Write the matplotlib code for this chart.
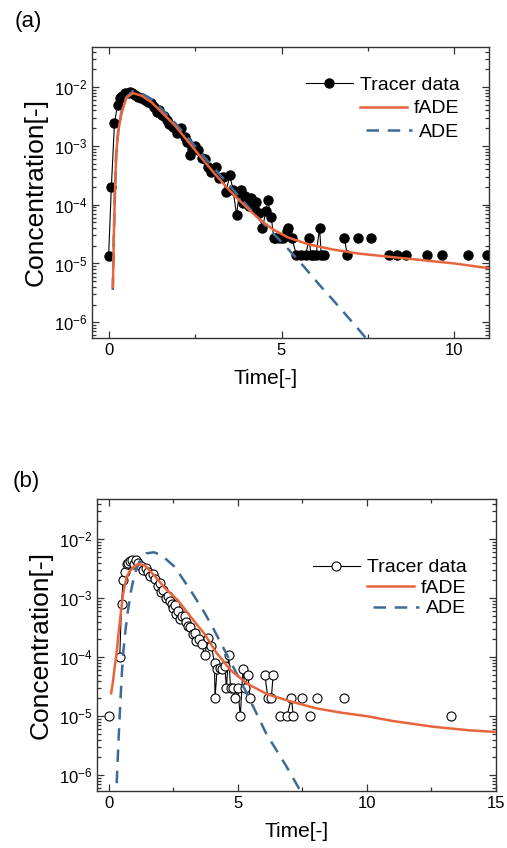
import matplotlib
matplotlib.use("Agg")
import matplotlib.pyplot as plt
import numpy as np
from matplotlib.ticker import MultipleLocator, LogLocator, NullFormatter

plt.rcParams["font.family"] = ["Liberation Sans", "DejaVu Sans"]
plt.rcParams["mathtext.fontset"] = "custom"
plt.rcParams["mathtext.rm"] = "Liberation Sans"
plt.rcParams["mathtext.it"] = "Liberation Sans:italic"
plt.rcParams["mathtext.bf"] = "Liberation Sans:bold"

ORANGE = "#E8643C"
BLUE = "#3F6A96"
AXIS = "#333333"

# ---- panel (a): tracer data (nan = gap in the connecting line) ----
time_a = [0.0, 0.08, 0.17, 0.26, 0.33, 0.40, 0.47, 0.55, 0.62, 0.69, 0.76, 0.84, 0.94,
          1.04, 1.14, 1.24, 1.32, 1.39, 1.46, 1.53, 1.60, 1.68, 1.76, 1.85, 1.97, 2.10,
          2.20, 2.28, 2.34, 2.40, 2.50, 2.58, 2.69, 2.78, 2.87, 2.95, 3.03, 3.12, 3.20,
          3.30, 3.40, 3.50, 3.60, 3.70, 3.78, 3.84, 3.88, 3.95, 4.05, 4.13, 4.20, 4.27,
          4.35, 4.45, 4.55, 4.60, 4.70, 4.78, 4.85, 4.95, 5.05, 5.15, 5.20, 5.30, 5.43,
          5.55, 5.70, 5.80, 5.85, 5.90, 6.00, 6.10, 6.15, 6.22, np.nan,
          6.82, 6.90, np.nan, 7.20, np.nan, 7.60, np.nan, 8.10, 8.35, 8.60, np.nan,
          9.20, np.nan, 9.65, np.nan, 10.40, np.nan, 10.95]
conc_a = [1.35e-5, 2.0e-4, 2.45e-3, 5.0e-3, 6.6e-3, 7.1e-3, 7.9e-3, 7.9e-3, 8.1e-3, 7.9e-3,
          7.2e-3, 6.8e-3, 6.6e-3, 6.0e-3, 5.6e-3, 5.4e-3, 4.5e-3, 3.8e-3, 4.0e-3, 3.3e-3,
          3.2e-3, 2.75e-3, 2.4e-3, 2.1e-3, 1.65e-3, 2.0e-3, 1.4e-3, 1.15e-3, 7.1e-4, 8.9e-4,
          1.0e-3, 8.5e-4, 6.3e-4, 6.0e-4, 4.4e-4, 3.55e-4, 4.0e-4, 4.4e-4, 2.8e-4, 3.0e-4,
          1.65e-4, 3.2e-4, 1.8e-4, 6.6e-5, 1.6e-4, 1.8e-4, 1.05e-4, 1.4e-4, 9.5e-5, 1.3e-4,
          8.9e-5, 1.1e-4, 7.1e-5, 4.0e-5, 7.9e-5, 1.2e-4, 6.2e-5, 2.7e-5, 2.7e-5, 2.7e-5,
          2.7e-5, 3.55e-5, 4.0e-5, 2.7e-5, 1.4e-5, 1.4e-5, 1.4e-5, 2.7e-5, 1.4e-5, 1.4e-5,
          1.4e-5, 4.0e-5, 1.4e-5, 1.4e-5, np.nan,
          2.7e-5, 1.4e-5, np.nan, 2.7e-5, np.nan, 2.7e-5, np.nan, 1.4e-5, 1.4e-5, 1.4e-5, np.nan,
          1.4e-5, np.nan, 1.4e-5, np.nan, 1.4e-5, np.nan, 1.4e-5]

fade_t_a = [0.125, 0.15, 0.18, 0.22, 0.28, 0.37, 0.51, 0.70, 0.94, 1.23, 1.52, 1.91, 2.29,
            2.68, 3.06, 3.50, 3.98, 4.40, 4.75, 5.20, 5.80, 6.50, 7.20, 8.0, 9.0, 10.0, 11.0]
fade_c_a = [4.0e-6, 2.8e-5, 1.4e-4, 7.4e-4, 1.78e-3, 3.55e-3, 6.5e-3, 7.9e-3, 7.2e-3, 5.6e-3,
            3.8e-3, 2.25e-3, 1.2e-3, 6.3e-4, 3.4e-4, 1.74e-4, 9.1e-5, 5.4e-5, 3.8e-5, 2.75e-5,
            2.1e-5, 1.72e-5, 1.48e-5, 1.32e-5, 1.15e-5, 1.0e-5, 8.3e-6]

ade_t_a = [0.12, 0.15, 0.18, 0.22, 0.28, 0.37, 0.51, 0.70, 0.94, 1.23, 1.52, 1.91, 2.29, 2.68,
           3.06, 3.50, 3.98, 4.50, 5.04, 5.57, 6.10, 6.46, 7.17, 7.70]
ade_c_a = [3.55e-6, 2.8e-5, 1.4e-4, 7.4e-4, 1.8e-3, 3.7e-3, 6.8e-3, 8.5e-3, 7.9e-3, 6.3e-3,
           4.3e-3, 2.5e-3, 1.38e-3, 7.4e-4, 4.1e-4, 2.1e-4, 1.0e-4, 4.6e-5, 2.2e-5, 1.0e-5,
           4.3e-6, 2.5e-6, 8.3e-7, 3.55e-7]

# ---- panel (b) ----
time_b = [0.0, np.nan, 0.43, 0.50, 0.56, 0.62, 0.70, 0.76, 0.82, 0.90, 0.98, 1.05, 1.15, 1.25,
          1.35, 1.43, 1.52, 1.60, 1.70, 1.80, 1.90, 1.98, 2.04, 2.12, 2.23, 2.30, 2.36, 2.44,
          2.50, 2.56, 2.62, 2.70, 2.76, 2.85, 2.95, 3.00, 3.07, 3.15, 3.27, 3.35, 3.40, 3.50,
          3.60, 3.72, 3.85, 3.98, 4.10, 4.12, 4.20, 4.30, 4.40, 4.50, 4.56, 4.65, 4.72, 4.83,
          4.90, 5.00, 5.10, 5.20, 5.28, 5.40, 5.47, np.nan,
          6.05, 6.17, 6.30, 6.37, np.nan, 6.63, 6.90, 7.08, 7.15, np.nan, 7.47, np.nan,
          7.80, np.nan, 8.07, np.nan, 9.10, np.nan, 13.25]
conc_b = [1.0e-5, np.nan, 1.0e-4, 7.9e-4, 2.0e-3, 2.8e-3, 3.8e-3, 4.0e-3, 4.2e-3, 4.4e-3,
          3.8e-3, 4.4e-3, 4.0e-3, 3.55e-3, 3.0e-3, 3.2e-3, 2.8e-3, 2.4e-3, 2.6e-3, 2.15e-3,
          1.6e-3, 1.8e-3, 1.25e-3, 1.4e-3, 1.0e-3, 1.1e-3, 9.1e-4, 7.9e-4, 6.9e-4, 7.6e-4,
          5.4e-4, 6.0e-4, 4.4e-4, 5.0e-4, 5.0e-4, 4.0e-4, 3.4e-4, 3.2e-4, 2.45e-4, 2.6e-4,
          1.85e-4, 2.0e-4, 1.65e-4, 1.1e-4, 2.1e-4, 1.55e-4, 7.9e-5, 2.0e-5, 6.3e-5, 6.6e-5,
          6.3e-5, 7.1e-5, 3.0e-5, 1.1e-4, 3.0e-5, 3.0e-5, 2.0e-5, 3.0e-5, 1.0e-5, 6.2e-5,
          3.0e-5, 5.0e-5, 2.0e-5, np.nan,
          5.0e-5, 2.0e-5, 2.0e-5, 5.0e-5, np.nan, 1.0e-5, 1.0e-5, 2.0e-5, 1.0e-5, np.nan, 2.0e-5,
          np.nan, 1.0e-5, np.nan, 2.0e-5, np.nan, 2.0e-5, np.nan, 1.0e-5]

fade_t_b = [0.10, 0.17, 0.23, 0.30, 0.36, 0.43, 0.49, 0.55, 0.62, 0.69, 0.80, 0.94, 1.14, 1.40,
            1.78, 2.17, 2.69, 3.20, 3.72, 4.17, 4.73, 5.37, 6.15, 7.05, 8.07, 9.0, 10.0, 11.0,
            12.6, 14.0, 15.0]
fade_c_b = [2.45e-5, 3.9e-5, 6.6e-5, 1.07e-4, 2.0e-4, 3.8e-4, 6.6e-4, 1.12e-3, 1.58e-3, 2.24e-3,
            2.8e-3, 3.3e-3, 3.8e-3, 3.6e-3, 2.4e-3, 1.5e-3, 9.1e-4, 4.7e-4, 2.45e-4, 1.2e-4,
            6.0e-5, 3.55e-5, 2.35e-5, 1.78e-5, 1.35e-5, 1.15e-5, 1.0e-5, 8.3e-6, 6.6e-6,
            5.75e-6, 5.4e-6]

ade_t_b = [0.28, 0.33, 0.38, 0.43, 0.49, 0.55, 0.65, 0.75, 0.87, 1.01, 1.2, 1.46, 1.75, 2.04,
           2.56, 3.2, 3.72, 4.1, 4.69, 5.34, 6.11, 6.89, 7.47, 7.8]
ade_c_b = [3.2e-7, 1.12e-6, 3.55e-6, 1.05e-5, 3.55e-5, 1.0e-4, 2.8e-4, 6.2e-4, 1.35e-3, 2.6e-3,
           4.2e-3, 5.75e-3, 6.0e-3, 5.4e-3, 3.4e-3, 1.3e-3, 5.6e-4, 2.8e-4, 8.9e-5, 2.5e-5,
           5.0e-6, 1.4e-6, 5.0e-7, 2.5e-7]


def style_axes(ax, xmax, xmin):
    ax.set_yscale("log")
    ax.set_ylim(5.4e-7, 4.8e-2)
    ax.set_xlim(xmin, xmax)
    ax.xaxis.set_major_locator(MultipleLocator(5))
    ax.xaxis.set_minor_locator(MultipleLocator(2.5))
    ax.yaxis.set_major_locator(LogLocator(base=10))
    ax.yaxis.set_minor_locator(LogLocator(base=10, subs=np.arange(2, 10)))
    ax.yaxis.set_minor_formatter(NullFormatter())
    ax.tick_params(which="both", direction="in", top=True, right=True, colors=AXIS,
                   labelcolor="black", labelsize=12, width=0.9)
    ax.tick_params(which="major", length=5)
    ax.tick_params(which="minor", length=3)
    for sp in ax.spines.values():
        sp.set_color(AXIS)
        sp.set_linewidth(1.0)
    ax.set_xlabel("Time[-]", fontsize=15, labelpad=8)
    ax.set_ylabel("Concentration[-]", fontsize=19, labelpad=4)


def right_legend(ax, anchor, spacing):
    leg = ax.legend(loc="upper right", bbox_to_anchor=anchor, frameon=False, fontsize=14,
                    handlelength=2.4, handletextpad=0.35, labelspacing=spacing,
                    borderaxespad=0)
    for col in leg._legend_handle_box.get_children():
        col.align = "right"
    return leg


fig = plt.figure(figsize=(5.07, 8.48), dpi=100)

ax_a = fig.add_axes([92 / 507, 1 - 338 / 848, 397 / 507, 291 / 848])
ax_a.plot(time_a, conc_a, "-o", color="black", lw=0.8, ms=6.5, mfc="black", mec="black",
          label="Tracer data", zorder=2)
ax_a.plot(fade_t_a, fade_c_a, color=ORANGE, lw=1.8, label="fADE", zorder=4)
ax_a.plot(ade_t_a, ade_c_a, color=BLUE, lw=1.8, ls=(0, (5, 3.5)), label="ADE", zorder=3)
style_axes(ax_a, 11, -0.48)
ax_a.xaxis.set_label_coords(0.436, -0.105)
right_legend(ax_a, (0.945, 0.927), 0.32)

ax_b = fig.add_axes([97 / 507, 1 - 791 / 848, 399 / 507, 292 / 848])
ax_b.plot(time_b, conc_b, "-o", color="black", lw=0.8, ms=6.5, mfc="white", mec="black",
          mew=0.8, label="Tracer data", zorder=2)
ax_b.plot(fade_t_b, fade_c_b, color=ORANGE, lw=1.8, label="fADE", zorder=4)
ax_b.plot(ade_t_b, ade_c_b, color=BLUE, lw=1.8, ls=(0, (5, 3.5)), label="ADE", zorder=3)
style_axes(ax_b, 15, -0.45)
right_legend(ax_b, (0.945, 0.822), 0.15)

fig.text(28 / 507, 1 - 22 / 848, "(a)", fontsize=16, ha="center", va="center")
fig.text(26 / 507, 1 - 482 / 848, "(b)", fontsize=16, ha="center", va="center")

fig.savefig("out.png", dpi=100)
